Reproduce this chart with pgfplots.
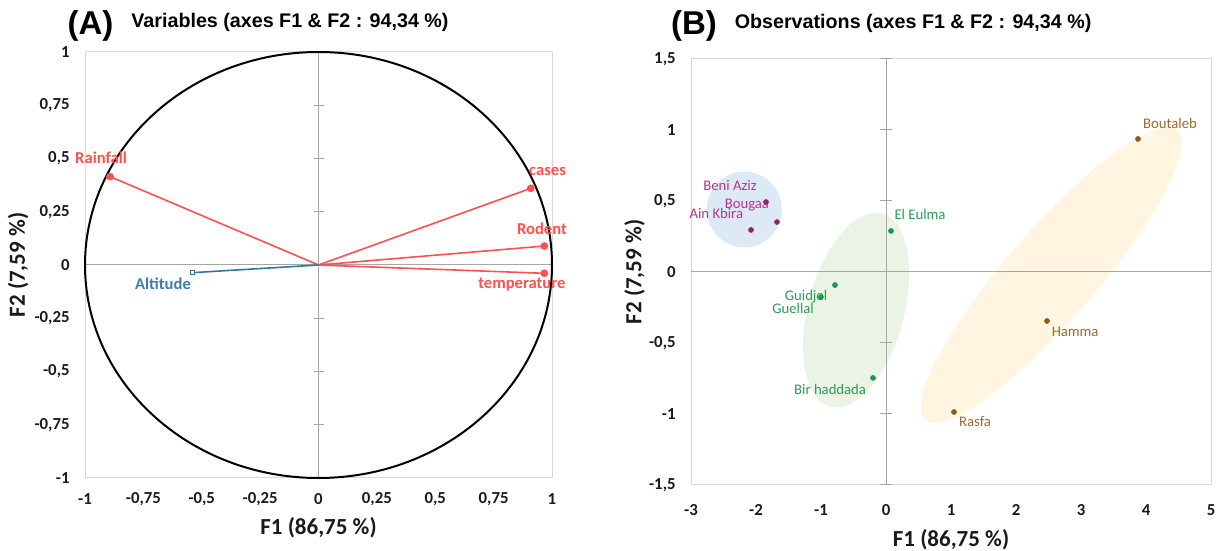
\documentclass[border=0pt]{standalone}
\usepackage{pgfplots}
\pgfplotsset{compat=1.18}
\usepackage{fontspec}
\setmainfont{Carlito}
\newfontfamily\titlefont{Liberation Sans}
\usetikzlibrary{shapes.geometric}
\definecolor{cred}{HTML}{FF5050}
\definecolor{cblue}{HTML}{31789F}
\definecolor{cbluet}{HTML}{3A7FA8}
\definecolor{cmag}{HTML}{9E2064}
\definecolor{cmagt}{HTML}{B8348A}
\definecolor{cgreen}{HTML}{1E9650}
\definecolor{cgreent}{HTML}{2A9D5A}
\definecolor{cbrown}{HTML}{8C5A1A}
\definecolor{cbrownt}{HTML}{9A6A2A}
\definecolor{eblue}{HTML}{DDEAF6}
\definecolor{egreen}{HTML}{EBF4E4}
\definecolor{eyellow}{HTML}{FFF5E1}
\definecolor{boxgray}{HTML}{D9D9D9}
\definecolor{zerogray}{HTML}{A6A6A6}
\definecolor{tickcol}{HTML}{1A1A1A}
\pgfplotsset{
  pcabase/.style={
    scale only axis, anchor=south west,
    axis line style={draw=boxgray, line width=0.5pt},
    major tick length=0pt,
    tick style={draw=none},
    clip=false,
    ticklabel style={font=\fontsize{8.4}{10}\selectfont\bfseries, text=tickcol, inner sep=0pt},
    yticklabel style={anchor=east, xshift=-7.5pt},
  }
}
\begin{document}
\begin{tikzpicture}
\path[use as bounding box] (0,0) rectangle (610pt,275.5pt);

% ---------------- Panel A ----------------
\begin{axis}[pcabase,
  at={(42.5pt,36.5pt)}, width=233.5pt, height=213pt,
  xmin=-1, xmax=1, ymin=-1, ymax=1,
  xtick={-1,-0.75,-0.5,-0.25,0,0.25,0.5,0.75,1},
  xticklabels={-1,{-0,75},{-0,5},{-0,25},0,{0,25},{0,5},{0,75},1},
  ytick={-1,-0.75,-0.5,-0.25,0,0.25,0.5,0.75,1},
  yticklabels={-1,{-0,75},{-0,5},{-0,25},0,{0,25},{0,5},{0,75},1},
  xticklabel style={anchor=center, yshift=-10.5pt},
  xlabel={F1 (86,75 \%)},
  ylabel={F2 (7,59 \%)},
  every axis x label/.style={at={(axis description cs:0.5,-0.1174)}, anchor=center, font=\fontsize{11.5}{13}\selectfont\bfseries, text=tickcol},
  every axis y label/.style={at={(axis description cs:-0.1435,0.5)}, anchor=center, rotate=90, font=\fontsize{11.5}{13}\selectfont\bfseries, text=tickcol},
]
\draw[zerogray, line width=0.5pt] (axis cs:0,-1) -- (axis cs:0,1);
\draw[zerogray, line width=0.5pt] (axis cs:-1,0) -- (axis cs:1,0);
\pgfplotsinvokeforeach{-0.75,-0.5,-0.25,0.25,0.5,0.75}{
  \draw[zerogray, line width=0.5pt] ([xshift=-2.5pt]axis cs:0,#1) -- ([xshift=2.5pt]axis cs:0,#1);
}
\draw[black, line width=1pt] (axis cs:0,0) ellipse [x radius=1, y radius=1];
\addplot[cred, line width=0.8pt, mark=*, mark size=1.5pt, mark indices={2}] coordinates {(0,0) (-0.893,0.415)};
\addplot[cred, line width=0.8pt, mark=*, mark size=1.5pt, mark indices={2}] coordinates {(0,0) (0.909,0.360)};
\addplot[cred, line width=0.8pt, mark=*, mark size=1.5pt, mark indices={2}] coordinates {(0,0) (0.967,0.089)};
\addplot[cred, line width=0.8pt, mark=*, mark size=1.5pt, mark indices={2}] coordinates {(0,0) (0.967,-0.039)};
\addplot[cblue, line width=0.8pt, mark=square*, mark size=1.1pt, mark indices={2}, mark options={fill=white, line width=0.5pt}] coordinates {(0,0) (-0.539,-0.036)};
\begin{scope}[every node/.style={font=\fontsize{8.3}{10}\selectfont\bfseries, inner sep=0pt}]
\node[text=cred] at (axis cs:-0.931,0.502) {Rainfall};
\node[text=cred] at (axis cs:0.981,0.441) {cases};
\node[text=cred] at (axis cs:0.957,0.169) {Rodent};
\node[text=cred] at (axis cs:0.871,-0.094) {temperature};
\node[text=cbluet] at (axis cs:-0.666,-0.089) {Altitude};
\end{scope}
\end{axis}

% ---------------- Panel B ----------------
\begin{axis}[pcabase,
  at={(345.5pt,33pt)}, width=260pt, height=213pt,
  xmin=-3, xmax=5, ymin=-1.5, ymax=1.5,
  xtick={-3,-2,-1,0,1,2,3,4,5},
  xticklabels={-3,-2,-1,0,1,2,3,4,5},
  ytick={-1.5,-1,-0.5,0,0.5,1,1.5},
  yticklabels={{-1,5},-1,{-0,5},0,{0,5},1,{1,5}},
  xticklabel style={anchor=center, yshift=-12.5pt},
  xlabel={F1 (86,75 \%)},
  ylabel={F2 (7,59 \%)},
  every axis x label/.style={at={(axis description cs:0.5,-0.1291)}, anchor=center, font=\fontsize{11.5}{13}\selectfont\bfseries, text=tickcol},
  every axis y label/.style={at={(axis description cs:-0.1087,0.5)}, anchor=center, rotate=90, font=\fontsize{11.5}{13}\selectfont\bfseries, text=tickcol},
]
\node[ellipse, fill=eblue, minimum width=37.5pt, minimum height=38pt, inner sep=0pt] at (axis cs:-2.18,0.44) {};
\node[ellipse, fill=egreen, minimum width=100pt, minimum height=48pt, inner sep=0pt, rotate=75] at (axis cs:-0.46,-0.268) {};
\node[ellipse, fill=eyellow, minimum width=192pt, minimum height=45pt, inner sep=0pt, rotate=49] at (axis cs:2.54,-0.021) {};
\draw[zerogray, line width=0.5pt] (axis cs:0,-1.5) -- (axis cs:0,1.5);
\draw[zerogray, line width=0.5pt] (axis cs:-3,0) -- (axis cs:5,0);
\pgfplotsinvokeforeach{-1.5,-1,-0.5,0.5,1,1.5}{
  \draw[zerogray, line width=0.5pt] ([xshift=-3pt]axis cs:0,#1) -- ([xshift=3pt]axis cs:0,#1);
}
\addplot[only marks, mark=*, mark size=1.2pt, cmag] coordinates {(-1.846,0.493) (-1.677,0.352) (-2.077,0.296)};
\addplot[only marks, mark=*, mark size=1.2pt, cgreen] coordinates {(0.077,0.289) (-0.785,-0.092) (-1.0,-0.176) (-0.2,-0.746)};
\addplot[only marks, mark=*, mark size=1.2pt, cbrown] coordinates {(3.877,0.937) (2.477,-0.345) (1.046,-0.986)};
\begin{scope}[every node/.style={font=\fontsize{7.35}{9}\selectfont, inner sep=0pt}]
\node[text=cmagt] at (axis cs:-2.40,0.606) {Beni Aziz};
\node[text=cmagt] at (axis cs:-2.14,0.472) {Bougaa};
\node[text=cmagt] at (axis cs:-2.61,0.415) {Ain Kbira};
\node[text=cgreent] at (axis cs:0.523,0.408) {El Eulma};
\node[text=cgreent] at (axis cs:-1.23,-0.176) {Guidjel};
\node[text=cgreent] at (axis cs:-1.43,-0.254) {Guellal};
\node[text=cgreent] at (axis cs:-0.86,-0.824) {Bir haddada};
\node[text=cbrownt] at (axis cs:4.37,1.049) {Boutaleb};
\node[text=cbrownt] at (axis cs:2.91,-0.423) {Hamma};
\node[text=cbrownt] at (axis cs:1.37,-1.056) {Rasfa};
\end{scope}
\end{axis}

% ---------------- Titles ----------------
\node[anchor=base, inner sep=0pt, font=\titlefont\bfseries\fontsize{16.5}{18}\selectfont] at (45.25pt,258.25pt) {(A)};
\node[anchor=base west, inner sep=0pt, font=\titlefont\bfseries\fontsize{9.85}{12}\selectfont] at (65.5pt,261.5pt) {Variables (axes F1 \& F2 : 94,34 \%)};
\node[anchor=base, inner sep=0pt, font=\titlefont\bfseries\fontsize{16.5}{18}\selectfont] at (347pt,258.25pt) {(B)};
\node[anchor=base west, inner sep=0pt, font=\titlefont\bfseries\fontsize{9.85}{12}\selectfont] at (367.2pt,261.4pt) {Observations (axes F1 \& F2 : 94,34 \%)};
\end{tikzpicture}
\end{document}
